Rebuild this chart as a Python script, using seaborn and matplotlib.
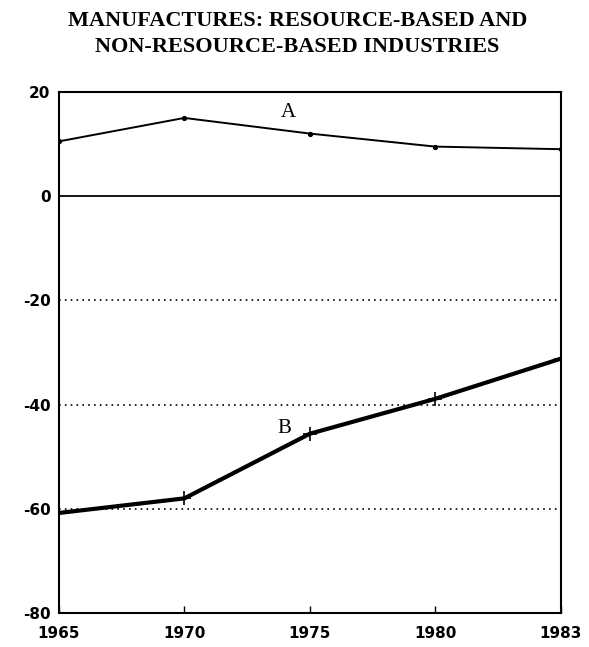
import matplotlib
matplotlib.use("Agg")
import matplotlib.pyplot as plt
import seaborn as sns
import pandas as pd
import numpy as np

years = ["1965", "1970", "1975", "1980", "1983"]
series_a = [10.5, 15.0, 12.0, 9.5, 9.0]
series_b = [-60.8, -58.0, -45.6, -38.9, -31.2]
y_ticks = [20, 0, -20, -40, -60, -80]
title = "MANUFACTURES: RESOURCE-BASED AND\nNON-RESOURCE-BASED INDUSTRIES"

sns.set_style("white")
plt.rcParams["font.family"] = ["DejaVu Sans"]
plt.rcParams["text.color"] = "black"
plt.rcParams["xtick.color"] = "black"
plt.rcParams["ytick.color"] = "black"

df = pd.DataFrame({"year": years, "A": series_a, "B": series_b})

fig = plt.figure(figsize=(5.89, 6.47), dpi=100)
ax = fig.add_axes([0.100, 0.0525, 0.852, 0.8055])

sns.lineplot(data=df, x="year", y="A", ax=ax, color="black", linewidth=1.4,
             marker="o", markersize=3, markeredgecolor="black", sort=False)
sns.lineplot(data=df, x="year", y="B", ax=ax, color="black", linewidth=3.0,
             marker="+", markersize=10, markeredgewidth=1.2, markeredgecolor="black", sort=False)

ax.set_xlim(0, len(years) - 1)
ax.set_ylim(-80, 20)
ax.set_yticks(y_ticks)
ax.set_yticklabels([str(t) for t in y_ticks], fontsize=11, fontweight="bold", color="black")
ax.set_xticks(range(len(years)))
ax.set_xticklabels(years, fontsize=11, fontweight="bold", color="black")
ax.set_xlabel("")
ax.set_ylabel("")

ax.axhline(0, color="black", linewidth=1.3)
for g in [-20, -40, -60]:
    ax.axhline(g, color="black", linewidth=1.2, linestyle=(0, (1, 2.5)))

for s in ax.spines.values():
    s.set_visible(True)
    s.set_color("black")
    s.set_linewidth(1.5)

ax.tick_params(axis="x", direction="in", length=5, width=1, pad=9, bottom=True)
ax.tick_params(axis="y", direction="out", length=0, pad=6, left=True)

ax.text(1.83, 16.0, "A", fontsize=15, family="Liberation Serif", ha="center", va="center", color="black")
ax.text(1.80, -44.6, "B", fontsize=15, family="Liberation Serif", ha="center", va="center", color="black")

fig.text(0.505, 0.983, title, ha="center", va="top", fontsize=16,
         fontweight="bold", family="Liberation Serif", linespacing=1.38, color="black")

fig.savefig("out.png", dpi=100, facecolor="white")
